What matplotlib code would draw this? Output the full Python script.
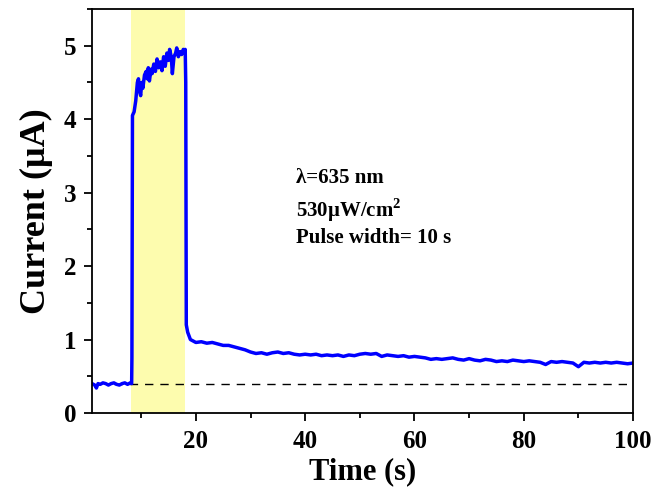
import matplotlib
matplotlib.use("Agg")
import matplotlib.pyplot as plt
from matplotlib.ticker import MultipleLocator

# ---- data ----
# dark baseline before the pulse
base_t = [1.0, 1.5, 1.8, 2.1, 2.5, 3.0, 3.5, 4.0, 4.5, 5.0, 5.5, 6.0, 6.5, 7.0, 7.5, 8.0, 8.25]
base_i = [0.40, 0.38, 0.34, 0.40, 0.39, 0.41, 0.40, 0.38, 0.40, 0.41, 0.39, 0.38, 0.40,
          0.41, 0.39, 0.41, 0.40]

# illuminated (pulse) segment
pulse_t = [8.3, 8.35, 8.4, 8.7, 9.0,
           9.3, 9.5, 9.7, 9.9, 10.1,
           10.3, 10.6, 10.9, 11.1, 11.3,
           11.5, 11.8, 12.0, 12.3, 12.6,
           12.9, 13.2, 13.5, 13.8, 14.1,
           14.4, 14.7, 15.0, 15.2, 15.5,
           15.7, 16.0, 16.3, 16.5, 16.8,
           17.1, 17.4, 17.7, 17.9, 18.05,
           18.15]
pulse_i = [0.75, 2.5, 4.05, 4.10, 4.25,
           4.50, 4.55, 4.38, 4.32, 4.50,
           4.42, 4.60, 4.65, 4.55, 4.70,
           4.52, 4.68, 4.62, 4.75, 4.65,
           4.82, 4.70, 4.78, 4.66, 4.85,
           4.72, 4.90, 4.80, 4.95, 4.85,
           4.62, 4.85, 4.90, 4.97, 4.85,
           4.92, 4.88, 4.95, 4.90, 4.95,
           4.50]

# decay after the pulse
decay_t = [18.25, 18.5, 19.0, 19.5] + list(range(20, 101))
decay_i = [1.20, 1.10, 1.00, 0.98,
           0.96, 0.97, 0.95, 0.96, 0.94, 0.92, 0.92, 0.90, 0.88, 0.86,
           0.83, 0.81, 0.82, 0.80, 0.82, 0.83, 0.81, 0.82, 0.80, 0.79,
           0.80, 0.79, 0.80, 0.78, 0.79, 0.78, 0.79, 0.77, 0.79, 0.78,
           0.80, 0.81, 0.80, 0.81, 0.77, 0.79, 0.78, 0.77, 0.78, 0.76,
           0.77, 0.76, 0.75, 0.73, 0.74, 0.73, 0.74, 0.75, 0.73, 0.72,
           0.74, 0.72, 0.71, 0.73, 0.72, 0.70, 0.71, 0.70, 0.72, 0.71,
           0.70, 0.71, 0.70, 0.69, 0.66, 0.70, 0.69, 0.70, 0.69, 0.68,
           0.63, 0.69, 0.68, 0.69, 0.68, 0.69, 0.68, 0.69, 0.68, 0.67,
           0.68]

pulse_start, pulse_end = 8.2, 18.1
dark_level = 0.4
dash_start = 5.0

x_ticks = [20, 40, 60, 80, 100]
y_ticks = [0, 1, 2, 3, 4, 5]
annotations = ["λ=635 nm", "530μW/cm$^\\mathbf{2}$", "Pulse width= 10 s"]
annot_y = [3.20, 2.76, 2.38]

time_s = base_t + pulse_t + decay_t
current_uA = base_i + pulse_i + decay_i

plt.rcParams['font.family'] = ['Liberation Serif', 'DejaVu Serif']
plt.rcParams['font.weight'] = 'bold'
plt.rcParams['mathtext.fontset'] = 'custom'
plt.rcParams['mathtext.rm'] = 'Liberation Serif:bold'
plt.rcParams['mathtext.bf'] = 'Liberation Serif:bold'

fig = plt.figure(figsize=(6.54, 4.91), dpi=100)
ax = fig.add_axes([0.1407, 0.1589, 0.968 - 0.1407, 0.9817 - 0.1589])

ax.axvspan(pulse_start, pulse_end, color='#fdfcae', zorder=0, lw=0)
ax.plot([dash_start, 100], [dark_level, dark_level], color='black', ls=(0, (6, 5)), lw=1.0, zorder=1)
ax.plot(time_s, current_uA, color='#0000ff', lw=2.5, zorder=2)

ax.set_xlim(1, 100)
ax.set_ylim(0, 5.5)
ax.set_xticks(x_ticks)
ax.set_yticks(y_ticks)
ax.xaxis.set_minor_locator(MultipleLocator(10))
ax.yaxis.set_minor_locator(MultipleLocator(0.5))
ax.tick_params(which='both', direction='out', top=False, right=False, width=1.3)
ax.tick_params(which='major', length=6, labelsize=18)
ax.tick_params(axis='x', which='major', pad=6)
ax.tick_params(axis='y', which='major', pad=5)
ax.tick_params(which='minor', length=3.5)
for lab in ax.get_xticklabels() + ax.get_yticklabels():
    lab.set_fontweight('bold')
for s in ax.spines.values():
    s.set_linewidth(1.3)

ax.set_xlabel('Time (s)', fontsize=22, fontweight='bold', labelpad=3)
ax.set_ylabel('Current (μA)', fontsize=26, fontweight='bold', labelpad=8)

for t, yv in zip(annotations, annot_y):
    ax.text(38.4, yv, t, fontsize=15, fontweight='bold', va='center', ha='left')

fig.savefig('out.png', dpi=100)
